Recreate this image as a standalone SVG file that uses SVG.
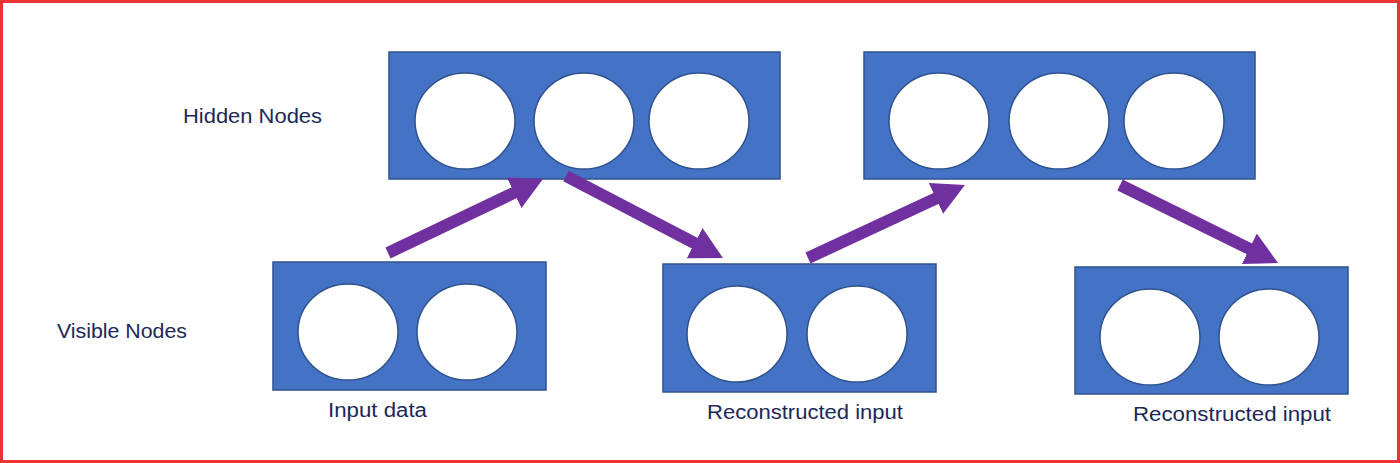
<svg xmlns="http://www.w3.org/2000/svg" width="1400" height="463" viewBox="0 0 1400 463">
  <defs>
    <style>
      .box { fill: #4472c4; stroke: #2f528f; stroke-width: 1.5; }
      .node { fill: #ffffff; stroke: #2f528f; stroke-width: 1.5; }
      .lbl { font-family: "Liberation Sans", Arial, sans-serif; font-size: 20px; fill: #1b2857; }
      .arrow { stroke: #7030a0; stroke-width: 12; fill: none; marker-end: url(#head); }
    </style>
    <marker id="head" markerUnits="userSpaceOnUse" markerWidth="32" markerHeight="34" refX="7" refY="17" orient="auto" viewBox="0 0 32 34">
      <path d="M0,0 L32,17 L0,34 z" fill="#7030a0"/>
    </marker>
  </defs>
  <rect x="1.5" y="1.5" width="1397" height="460" fill="#ffffff" stroke="#ee3338" stroke-width="3"/>

  <text class="lbl" x="183" y="123" textLength="139" lengthAdjust="spacingAndGlyphs">Hidden Nodes</text>
  <text class="lbl" x="57" y="338" textLength="130" lengthAdjust="spacingAndGlyphs">Visible Nodes</text>

  <g id="hidden1">
    <rect class="box" x="389" y="52" width="391" height="127"/>
    <ellipse class="node" cx="465" cy="121" rx="50" ry="48"/>
    <ellipse class="node" cx="584" cy="121" rx="50" ry="48"/>
    <ellipse class="node" cx="699" cy="121" rx="50" ry="48"/>
  </g>
  <g id="hidden2">
    <rect class="box" x="864" y="52" width="391" height="127"/>
    <ellipse class="node" cx="939" cy="121" rx="50" ry="48"/>
    <ellipse class="node" cx="1059" cy="121" rx="50" ry="48"/>
    <ellipse class="node" cx="1174" cy="121" rx="50" ry="48"/>
  </g>
  <g id="visible1">
    <rect class="box" x="273" y="262" width="273" height="128"/>
    <ellipse class="node" cx="348" cy="332" rx="50" ry="48"/>
    <ellipse class="node" cx="467" cy="332" rx="50" ry="48"/>
    <text class="lbl" x="328" y="417" textLength="99" lengthAdjust="spacingAndGlyphs">Input data</text>
  </g>
  <g id="visible2">
    <rect class="box" x="663" y="264" width="273" height="128"/>
    <ellipse class="node" cx="737" cy="334" rx="50" ry="48"/>
    <ellipse class="node" cx="857" cy="334" rx="50" ry="48"/>
    <text class="lbl" x="707" y="419" textLength="196" lengthAdjust="spacingAndGlyphs">Reconstructed input</text>
  </g>
  <g id="visible3">
    <rect class="box" x="1075" y="267" width="273" height="127"/>
    <ellipse class="node" cx="1150" cy="337" rx="50" ry="48"/>
    <ellipse class="node" cx="1269" cy="337" rx="50" ry="48"/>
    <text class="lbl" x="1133" y="421" textLength="198" lengthAdjust="spacingAndGlyphs">Reconstructed input</text>
  </g>

  <g id="connectors">
    <line class="arrow" x1="388" y1="253" x2="520.4" y2="189.8"/>
    <line class="arrow" x1="566" y1="176" x2="700.8" y2="246.4"/>
    <line class="arrow" x1="808" y1="258" x2="942.3" y2="195.5"/>
    <line class="arrow" x1="1120" y1="185" x2="1255.6" y2="251.9"/>
  </g>
</svg>
